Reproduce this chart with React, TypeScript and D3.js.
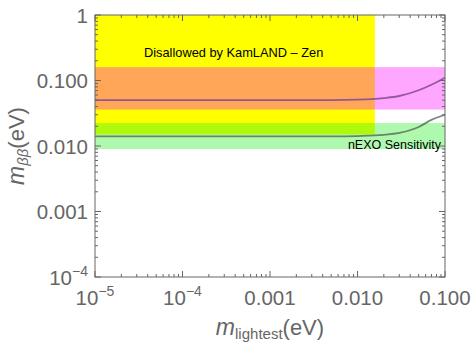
import React from 'react'
import { scaleLog, line, curveMonotoneX, range } from 'd3'

// values (eV)
const massLightest = [1e-5, 1e-4, 1e-3, 0.005, 0.01, 0.02, 0.03, 0.05, 0.07, 0.1]
const kamlandCurve = [0.05, 0.05, 0.05, 0.0502, 0.051, 0.054, 0.058, 0.071, 0.086, 0.11]
const nexoCurve = [0.014, 0.014, 0.014, 0.014, 0.0142, 0.0148, 0.0158, 0.0195, 0.025, 0.03]

const kamlandBand = [0.036, 0.16]
const nexoBand = [0.009, 0.0224]
const disallowedX = [1e-5, 0.0158]
const disallowedY = [0.015, 1]

const xTicks = [1e-5, 1e-4, 1e-3, 1e-2, 1e-1]
const xTickLabels = ['10^-5', '10^-4', '0.001', '0.010', '0.100']
const yTicks = [1e-4, 1e-3, 1e-2, 1e-1, 1]
const yTickLabels = ['10^-4', '0.001', '0.010', '0.100', '1']

const W = 472
const H = 347
const m = { left: 95, right: 445, top: 15, bottom: 277 }
const axisColor = '#666'
const font = '"Liberation Sans", Arial, Helvetica, sans-serif'

const TickLabel = ({ text, ...rest }: any) => {
    if (text.includes('^')) {
        const [base, exp] = text.split('^')
        return (
            <text {...rest}>
                {base}
                <tspan fontSize={14} dy={-9}>{exp.replace('-', '\u2212')}</tspan>
            </text>
        )
    }
    return <text {...rest}>{text}</text>
}

const App = () => {
    const x = scaleLog().domain([1e-5, 0.1]).range([m.left, m.right])
    const y = scaleLog().domain([1e-4, 1]).range([m.bottom, m.top])

    const minor = (domain: number[]) => {
        const out: number[] = []
        for (let e = Math.round(Math.log10(domain[0])); e < Math.round(Math.log10(domain[1])); e++) {
            range(2, 10).forEach(k => out.push(k * Math.pow(10, e)))
        }
        return out
    }
    const xMinor = minor([1e-5, 0.1])
    const yMinor = minor([1e-4, 1])

    const path = line<number>()
        .x((_, i) => x(massLightest[i]))
        .curve(curveMonotoneX)

    const kamlandPath = path.y(d => y(d))(kamlandCurve)
    const nexoPath = path.y(d => y(d))(nexoCurve)

    return (
        <svg width={W} height={H} style={{ position: 'absolute', left: 0, top: 0, background: 'white' }} fontFamily={font}>
            {/* disallowed region */}
            <rect x={x(disallowedX[0])} y={y(disallowedY[1])}
                width={x(disallowedX[1]) - x(disallowedX[0])}
                height={y(disallowedY[0]) - y(disallowedY[1])}
                fill="#ffff00" />
            {/* KamLAND-Zen band */}
            <rect x={m.left} y={y(kamlandBand[1])} width={m.right - m.left}
                height={y(kamlandBand[0]) - y(kamlandBand[1])}
                fill="#f0f" fillOpacity={0.35} />
            {/* nEXO band */}
            <rect x={m.left} y={y(nexoBand[1])} width={m.right - m.left}
                height={y(nexoBand[0]) - y(nexoBand[1])}
                fill="#22ee22" fillOpacity={0.36} />

            <path d={kamlandPath || ''} fill="none" stroke="#8a4f9a" strokeWidth={1.8} strokeOpacity={0.9} />
            <path d={nexoPath || ''} fill="none" stroke="#4d5f50" strokeWidth={1.8} strokeOpacity={0.75} />

            <text x={144} y={57} fontSize={12.8} fill="#000">Disallowed by KamLAND {'\u2013'} Zen</text>
            <text x={441} y={149} fontSize={12.5} fill="#000" textAnchor="end">nEXO Sensitivity</text>

            {/* frame */}
            <rect x={m.left} y={m.top} width={m.right - m.left} height={m.bottom - m.top}
                fill="none" stroke={axisColor} strokeWidth={1} />

            {xTicks.map(t => (
                <g key={'xt' + t}>
                    <line x1={x(t)} x2={x(t)} y1={m.bottom} y2={m.bottom - 6} stroke={axisColor} />
                    <line x1={x(t)} x2={x(t)} y1={m.top} y2={m.top + 6} stroke={axisColor} />
                </g>
            ))}
            {xMinor.map(t => (
                <g key={'xm' + t}>
                    <line x1={x(t)} x2={x(t)} y1={m.bottom} y2={m.bottom - 3} stroke={axisColor} />
                    <line x1={x(t)} x2={x(t)} y1={m.top} y2={m.top + 3} stroke={axisColor} />
                </g>
            ))}
            {yTicks.map(t => (
                <g key={'yt' + t}>
                    <line x1={m.left} x2={m.left + 6} y1={y(t)} y2={y(t)} stroke={axisColor} />
                    <line x1={m.right} x2={m.right - 6} y1={y(t)} y2={y(t)} stroke={axisColor} />
                </g>
            ))}
            {yMinor.map(t => (
                <g key={'ym' + t}>
                    <line x1={m.left} x2={m.left + 3} y1={y(t)} y2={y(t)} stroke={axisColor} />
                    <line x1={m.right} x2={m.right - 3} y1={y(t)} y2={y(t)} stroke={axisColor} />
                </g>
            ))}

            {xTicks.map((t, i) => (
                <TickLabel key={'xl' + t} text={xTickLabels[i]} x={x(t)} y={305}
                    fontSize={20.5} fill={axisColor} textAnchor="middle" />
            ))}
            {yTicks.map((t, i) => (
                <TickLabel key={'yl' + t} text={yTickLabels[i]} x={88} y={y(t) + 7.5}
                    fontSize={20.5} fill={axisColor} textAnchor="end" />
            ))}

            <text x={(m.left + m.right) / 2} y={335} fill={axisColor} textAnchor="middle">
                <tspan fontSize={23} fontStyle="italic">m</tspan>
                <tspan fontSize={15} dy={4}>lightest</tspan>
                <tspan fontSize={22} dy={-4}>(eV)</tspan>
            </text>
            <text transform={`translate(24,${(m.top + m.bottom) / 2}) rotate(-90)`} fill={axisColor} textAnchor="middle">
                <tspan fontSize={23} fontStyle="italic">m</tspan>
                <tspan fontSize={15} fontStyle="italic" dy={4}>{'\u03b2\u03b2'}</tspan>
                <tspan fontSize={22} dy={-4}>(eV)</tspan>
            </text>
        </svg>
    )
}

export default App
